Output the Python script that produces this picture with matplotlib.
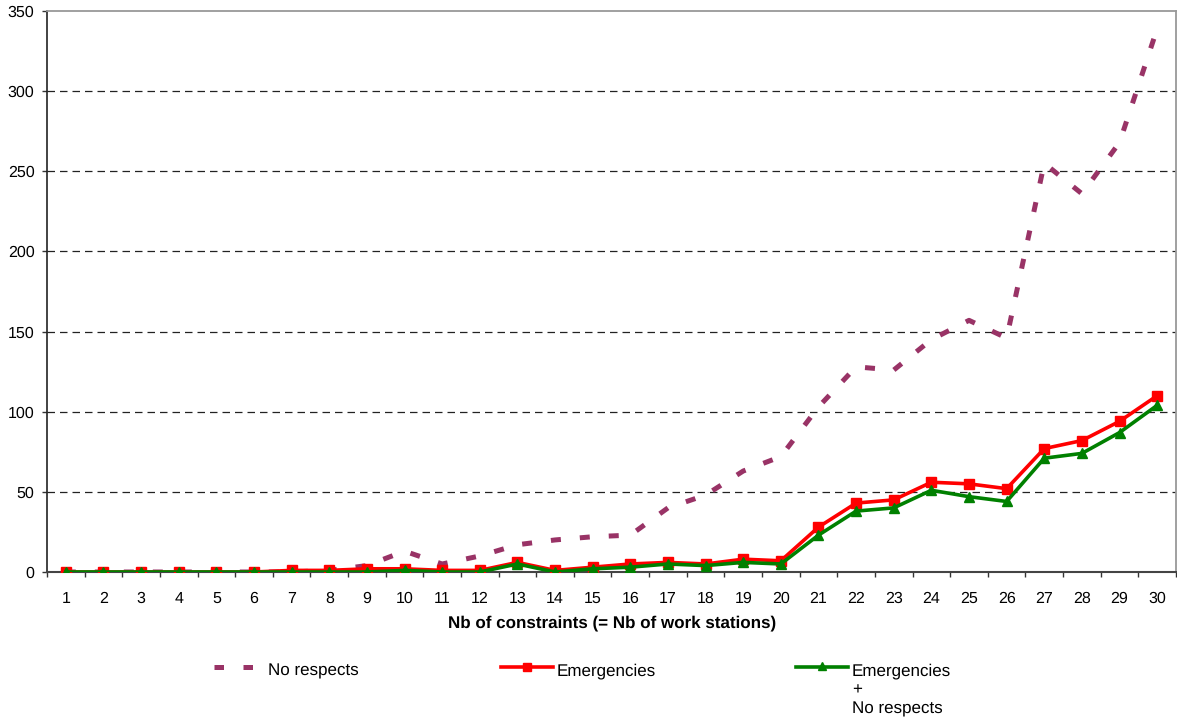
import matplotlib
matplotlib.use("Agg")
import matplotlib.pyplot as plt
from matplotlib.lines import Line2D
import numpy as np

plt.rcParams['font.family'] = ['Liberation Sans', 'DejaVu Sans']
plt.rcParams['text.hinting'] = 'no_hinting'
plt.rcParams['text.hinting_factor'] = 1

stations = list(range(1, 31))
no_respects = [0, 0, 0, 0, 0, 0, 0, 1, 4, 13, 5, 10, 17, 20, 22, 23, 40, 48, 63, 72,
               103, 128, 126, 145, 157, 146, 255, 236, 268, 339]
emergencies = [0, 0, 0, 0, 0, 0, 1, 1, 2, 2, 1, 1, 6, 1, 3, 5, 6, 5, 8, 7,
               28, 43, 45, 56, 55, 52, 77, 82, 94, 110]
emerg_no_resp = [0, 0, 0, 0, 0, 0, 0, 0, 0, 1, 0, 0, 5, 0, 2, 3, 5, 4, 6, 5,
                 23, 38, 40, 51, 47, 44, 71, 74, 87, 104]
yticks = [0, 50, 100, 150, 200, 250, 300, 350]
xlabel = "Nb of constraints (= Nb of work stations)"
labels = ["No respects", "Emergencies", "Emergencies\n+\nNo respects"]

W, H = 1177, 719
fig = plt.figure(figsize=(W / 100, H / 100), dpi=100)
ax = fig.add_axes([47 / W, 1 - 572 / H, (1176 - 47) / W, (572 - 11) / H])

for v in yticks[1:-1]:
    ax.axhline(v, color='#222222', lw=0.9, dashes=(6, 4), zorder=1)

purple_style = dict(color='#993366', lw=3.6, dashes=(2.0, 3.8), dash_capstyle='butt')
red_style = dict(color='#FF0000', lw=2.6, marker='s', markersize=6.5)
green_style = dict(color='#008000', lw=2.6, marker='^', markersize=7)

ax.plot(stations, no_respects, zorder=2, **purple_style)
ax.plot(stations, emergencies, zorder=3, **red_style)
ax.plot(stations, emerg_no_resp, zorder=4, **green_style)

ax.set_xlim(0.5, 30.5)
ax.set_ylim(0, 350)
ax.set_yticks(yticks)
ax.set_xticks(stations)
ax.set_xticks(np.arange(0.5, 31, 1), minor=True)
ax.tick_params(axis='x', which='major', length=0, pad=14, labelsize=11.5)
ax.tick_params(axis='x', which='minor', length=3.5, width=1, color='#333333', direction='out')
ax.tick_params(axis='y', length=3.5, width=1, color='#333333', direction='out',
               labelsize=11.5, pad=5.5)

for s in ['top', 'right']:
    ax.spines[s].set_color('#999999')
    ax.spines[s].set_linewidth(1.3)
ax.spines['left'].set_color('#222222')
ax.spines['bottom'].set_color('#444444')
ax.spines['left'].set_linewidth(1.2)
ax.spines['bottom'].set_linewidth(1.5)

fig.text(612 / W, 1 - 623 / H, xlabel, ha='center', va='center',
         fontsize=12, fontweight='bold')

# manual legend
def fx(px):
    return px / W

def fy(py):
    return 1 - py / H

ly = 667
fig.add_artist(Line2D([fx(214), fx(253)], [fy(ly), fy(ly)], transform=fig.transFigure,
                      color='#993366', lw=3.6, dashes=(1.9, 3.9), dash_capstyle='butt'))
fig.add_artist(Line2D([fx(501), fx(553)], [fy(ly), fy(ly)], transform=fig.transFigure,
                      color='#FF0000', lw=2.6))
fig.add_artist(Line2D([fx(527)], [fy(ly)], transform=fig.transFigure,
                      color='#FF0000', marker='s', markersize=6, lw=0))
fig.add_artist(Line2D([fx(796), fx(848)], [fy(ly), fy(ly)], transform=fig.transFigure,
                      color='#008000', lw=2.6))
fig.add_artist(Line2D([fx(822)], [fy(ly - 1)], transform=fig.transFigure,
                      color='#008000', marker='^', markersize=5.5, lw=0))

text_x = [268, 557, 852]
for lab, x in zip(labels, text_x):
    fig.text(fx(x), fy(663), lab, ha='left', va='top', fontsize=12,
             linespacing=1.28)

fig.savefig('out.png', dpi=100)
